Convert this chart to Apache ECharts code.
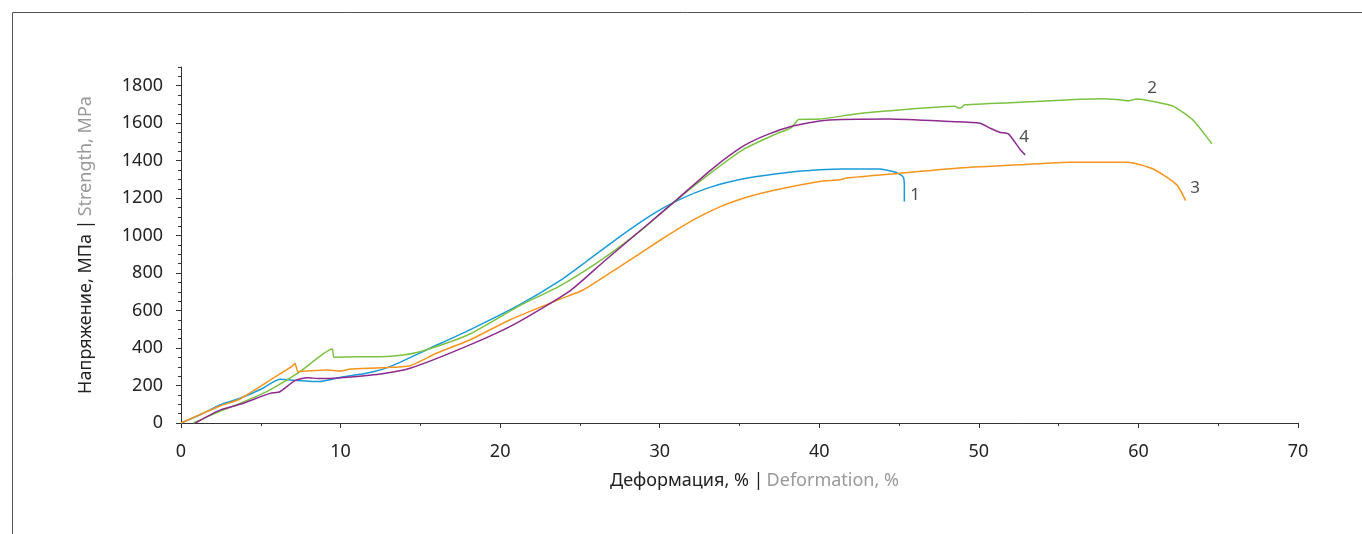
<!DOCTYPE html>
<html>
<head>
<meta charset="utf-8">
<script src="https://cdn.jsdelivr.net/npm/echarts@6/dist/echarts.min.js"></script>
<style>
html,body{margin:0;padding:0;background:#fff;}
#chart{width:1362px;height:534px;}
</style>
</head>
<body>
<div id="chart"></div>
<script>
// ---- Data (strain %, stress MPa) ----
const s1Strain = [0, 1.3, 2.44, 3.7, 5.0, 6.2, 6.83, 8.7, 10.0, 11.6, 13.1, 15.6, 18.1, 21.2, 23.75, 25.4, 27.5, 29.4, 31.1, 33.2, 35.5, 38.0, 40.0, 41.5, 43.8, 44.6, 45.0, 45.27, 45.33, 45.33];
const s1Stress = [0, 48, 96, 132, 180, 233, 230, 221, 244, 265, 301, 399, 497, 630, 760, 862, 995, 1106, 1187, 1259, 1307, 1337, 1351, 1356, 1355, 1342, 1330, 1312, 1260, 1182];

const s2Strain = [0.77, 2.5, 3.7, 5.37, 7.46, 9.48, 9.59, 11.0, 12.5, 13.9, 15.2, 18.1, 21.2, 23.75, 26.5, 29.0, 31.06, 33.2, 35.2, 37.3, 38.2, 38.5, 38.7, 40.0, 42.3, 44.4, 48.5, 48.7, 48.9, 49.1, 53.2, 57.6, 58.8, 59.4, 59.9, 61.6, 62.2, 63.4, 64.6];
const s2Stress = [0, 65, 105, 167, 274, 395, 351, 354, 354, 363, 386, 475, 625, 732, 880, 1040, 1191, 1335, 1458, 1543, 1574, 1601, 1620, 1622, 1649, 1666, 1690, 1681, 1682, 1698, 1714, 1730, 1725, 1720, 1729, 1704, 1690, 1618, 1490];

const s3Strain = [0, 2.44, 3.7, 6.0, 7.0, 7.14, 7.35, 9.1, 10.0, 10.6, 12.5, 14.35, 16.0, 18.1, 20.6, 23.75, 25.2, 27.5, 30.0, 32.1, 33.8, 35.45, 37.1, 40.0, 41.3, 41.7, 45.06, 48.6, 52.6, 55.7, 59.3, 60.9, 62.4, 62.96];
const s3Stress = [0, 91, 128, 251, 305, 319, 274, 283, 278, 288, 295, 306, 372, 443, 550, 661, 710, 835, 974, 1084, 1155, 1205, 1241, 1289, 1298, 1307, 1333, 1360, 1378, 1392, 1392, 1357, 1271, 1187];

const s4Strain = [0.9, 2.44, 3.7, 5.58, 6.2, 7.14, 7.9, 8.7, 10.0, 12.5, 14.35, 18.1, 21.0, 24.4, 26.5, 29.2, 31.06, 33.2, 35.2, 36.7, 38.4, 40.3, 44.4, 48.2, 50.07, 50.7, 51.3, 51.85, 52.6, 52.9];
const s4Stress = [0, 69, 100, 158, 167, 226, 242, 237, 242, 262, 292, 417, 532, 707, 862, 1057, 1191, 1350, 1476, 1538, 1586, 1615, 1622, 1609, 1600, 1574, 1552, 1543, 1458, 1431];

const curveNames = ['1', '2', '3', '4'];
const labelStrain = [46.0, 60.85, 63.55, 52.83];
const labelStress = [1218, 1789, 1255, 1527];

const xTicks = [0, 10, 20, 30, 40, 50, 60, 70];
const yTicks = [0, 200, 400, 600, 800, 1000, 1200, 1400, 1600, 1800];

const colors = ['#1a9ad7', '#7cc142', '#f7941d', '#8c2b8e'];

function zip(a, b) { return a.map((v, i) => [v, b[i]]); }
const seriesData = [zip(s1Strain, s1Stress), zip(s2Strain, s2Stress), zip(s3Strain, s3Stress), zip(s4Strain, s4Stress)];

const FONT = '"Noto Sans", "Open Sans", sans-serif';
const chart = echarts.init(document.getElementById('chart'), null, {renderer: 'canvas'});
const plain = v => String(v);

const option = {
  animation: false,
  backgroundColor: '#fff',
  textStyle: {fontFamily: FONT},
  graphic: [
    {type: 'line', shape: {x1: 12.5, y1: 12.5, x2: 1362, y2: 12.5}, style: {stroke: '#555', lineWidth: 1}},
    {type: 'line', shape: {x1: 12.5, y1: 12.5, x2: 12.5, y2: 534}, style: {stroke: '#555', lineWidth: 1}}
  ],
  grid: {left: 181, right: 64, top: 67, bottom: 111, containLabel: false},
  xAxis: {
    type: 'value', min: 0, max: 70, interval: 10,
    axisLine: {show: true, lineStyle: {color: '#333', width: 1}},
    axisTick: {show: true, length: 5, lineStyle: {color: '#333'}},
    minorTick: {show: true, splitNumber: 2, length: 3, lineStyle: {color: '#333'}},
    splitLine: {show: false},
    axisLabel: {color: '#222', fontSize: 18, margin: 20, fontFamily: FONT, customValues: xTicks, formatter: plain},
    name: '{a|Деформация, % |} {b|Deformation, %}',
    nameLocation: 'middle', nameGap: 49,
    nameTextStyle: {
      padding: [0, 0, 0, 30],
      rich: {
        a: {color: '#222', fontSize: 18, fontFamily: FONT},
        b: {color: '#999', fontSize: 18, fontFamily: FONT}
      }
    }
  },
  yAxis: [
    {
      type: 'value', min: 0, max: 1900, interval: 50,
      axisLine: {show: true, lineStyle: {color: '#333', width: 1}},
      axisTick: {show: true, length: 3, lineStyle: {color: '#333'}},
      splitLine: {show: false},
      axisLabel: {show: false},
      name: '{a|Напряжение, МПа |} {b|Strength, MPa}',
      nameLocation: 'middle', nameGap: 86, nameRotate: 90,
      nameTextStyle: {
        rich: {
          a: {color: '#222', fontSize: 18, fontFamily: FONT},
          b: {color: '#999', fontSize: 18, fontFamily: FONT}
        }
      }
    },
    {
      type: 'value', min: 0, max: 1900, interval: 200, position: 'left',
      axisLine: {show: false},
      axisTick: {show: true, length: 5, lineStyle: {color: '#333'}, customValues: yTicks},
      splitLine: {show: false},
      axisLabel: {color: '#222', fontSize: 18, margin: 18, fontFamily: FONT, customValues: yTicks, formatter: plain}
    }
  ],
  series: seriesData.map((d, i) => ({
    type: 'line', name: curveNames[i], data: d, showSymbol: false, symbol: 'none',
    smooth: 0.2, yAxisIndex: 0,
    lineStyle: {color: colors[i], width: 1.5},
    z: 2
  })).concat([{
    type: 'scatter', yAxisIndex: 0, symbol: 'circle', symbolSize: 2,
    itemStyle: {color: 'rgba(255,255,255,0)'},
    data: curveNames.map((n, i) => ({name: n, value: [labelStrain[i], labelStress[i]]})),
    label: {show: true, position: 'inside', formatter: '{b}', color: '#222', fontSize: 17, fontFamily: FONT},
    silent: true, z: 5
  }])
};
chart.setOption(option);
</script>
</body>
</html>
